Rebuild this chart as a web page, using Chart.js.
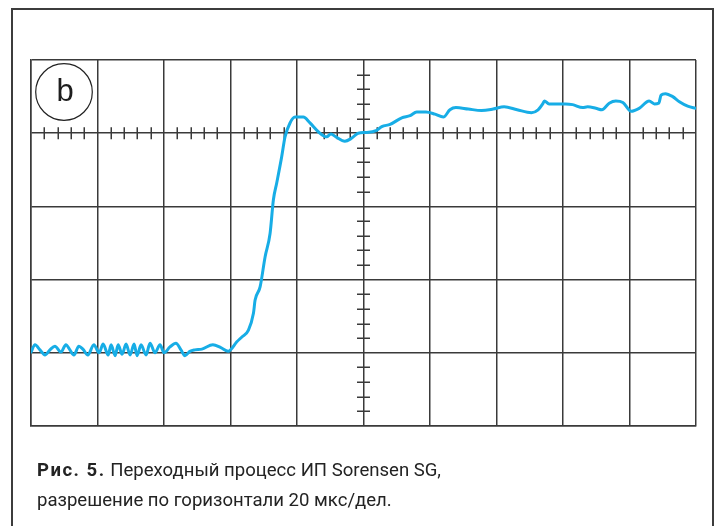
<!DOCTYPE html>
<html lang="ru">
<head>
<meta charset="utf-8">
<title>Рис. 5. Переходный процесс ИП Sorensen SG</title>
<script src="https://cdn.jsdelivr.net/npm/chart.js@4.4.1/dist/chart.umd.min.js"></script>
<style>
  html, body { margin: 0; padding: 0; background: #fff; }
  #scope { display: block; }
</style>
</head>
<body>
<canvas id="scope" width="716" height="526"></canvas>
<script>
// Horizontal: 20 µs per division, 10 divisions. Vertical: screen divisions.
const timeTicks = [0, 20, 40, 60, 80, 100, 120, 140, 160, 180, 200];
const levelTicks = [0, 1, 2, 3, 4, 5];

// Reference lines carrying the minor graticule marks
const markedTime = 100;
const markedLevel = 4;

// Output transient trace: time (µs) and level (div)
const traceTime = [
  0.0, 1.2, 2.7, 4.2, 5.7, 7.2, 9.0, 10.5, 11.7, 12.9,
  14.4, 15.6, 17.1, 18.9, 20.5, 21.7, 23.2, 24.1, 25.3, 26.2,
  27.4, 28.6, 29.8, 31.0, 31.9, 33.1, 34.6, 35.8, 37.3, 38.8,
  40.0, 41.8, 43.6, 45.1, 46.3, 47.8, 49.3, 51.4, 54.7, 57.1,
  59.3, 61.9, 63.5, 65.4, 66.9, 67.4, 68.9, 70.4, 71.9, 72.9,
  73.9, 75.4, 76.4, 77.9, 79.4, 81.9, 83.9, 86.4, 88.9, 90.2,
  91.7, 94.4, 96.4, 98.4, 101.0, 104.0, 105.5, 108.0, 111.5, 114.0,
  116.0, 118.8, 121.5, 124.0, 126.0, 127.8, 131.5, 135.5, 139.0, 142.3,
  146.2, 150.5, 152.5, 153.9, 154.4, 155.8, 160.8, 162.9, 165.9, 167.4,
  169.9, 171.7, 173.9, 175.9, 178.0, 180.5, 182.9, 185.9, 187.5, 188.8,
  189.5, 190.8, 193.0, 195.0, 197.5, 200.0
];
const traceLevel = [
  1.01, 1.11, 1.04, 0.97, 1.04, 1.09, 1.01, 1.11, 1.04, 0.97,
  1.09, 1.05, 0.97, 1.11, 1.00, 1.12, 0.97, 1.11, 0.96, 1.11,
  0.98, 1.12, 0.97, 1.12, 0.96, 1.11, 0.97, 1.13, 1.00, 1.11,
  1.00, 1.08, 1.13, 1.04, 0.96, 1.02, 1.04, 1.05, 1.11, 1.07,
  1.02, 1.15, 1.22, 1.31, 1.54, 1.72, 1.90, 2.31, 2.63, 3.09,
  3.32, 3.68, 3.95, 4.14, 4.22, 4.22, 4.14, 4.02, 3.95, 3.99,
  3.95, 3.89, 3.93, 4.00, 4.01, 4.04, 4.09, 4.12, 4.21, 4.24,
  4.29, 4.29, 4.26, 4.22, 4.32, 4.35, 4.33, 4.31, 4.33, 4.36,
  4.32, 4.28, 4.32, 4.40, 4.44, 4.40, 4.40, 4.39, 4.35, 4.36,
  4.34, 4.32, 4.41, 4.44, 4.42, 4.30, 4.34, 4.44, 4.40, 4.41,
  4.52, 4.54, 4.50, 4.43, 4.37, 4.34
];

const panelLabel = 'b';
const captionBold = 'Рис. 5.';
const captionRest = ' Переходный процесс ИП Sorensen SG,';
const captionLine2 = 'разрешение по горизонтали 20 мкс/дел.';

const tracePoints = traceTime.map((t, i) => ({ x: t, y: traceLevel[i] }));

const GRID = '#3a3a3a';
const INK = '#232323';

// Frame, minor graticule marks, panel badge and caption
const scopeDecor = {
  id: 'scopeDecor',
  beforeDraw(chart) {
    const ctx = chart.ctx;
    ctx.save();
    ctx.fillStyle = '#fff';
    ctx.fillRect(0, 0, chart.width, chart.height);
    ctx.strokeStyle = '#3c3c3c';
    ctx.lineWidth = 2;
    ctx.strokeRect(12, 9, 701, 640);
    ctx.restore();
  },
  beforeDatasetsDraw(chart) {
    const { ctx, scales: { x, y } } = chart;
    ctx.save();
    ctx.strokeStyle = GRID;
    ctx.lineWidth = 1.5;
    ctx.beginPath();
    // marks along the horizontal marked line, 5 per division
    const yLine = y.getPixelForValue(markedLevel);
    for (let i = 0; i < timeTicks.length - 1; i++) {
      const step = (timeTicks[i + 1] - timeTicks[i]) / 5;
      for (let k = 1; k < 5; k++) {
        const px = Math.round(x.getPixelForValue(timeTicks[i] + k * step)) + 0.25;
        ctx.moveTo(px, yLine - 6);
        ctx.lineTo(px, yLine + 6);
      }
    }
    // marks along the vertical marked line
    const xLine = x.getPixelForValue(markedTime);
    for (let i = 0; i < levelTicks.length - 1; i++) {
      const step = (levelTicks[i + 1] - levelTicks[i]) / 5;
      for (let k = 1; k < 5; k++) {
        const py = Math.round(y.getPixelForValue(levelTicks[i] + k * step)) + 0.25;
        ctx.moveTo(xLine - 6.5, py);
        ctx.lineTo(xLine + 6.5, py);
      }
    }
    ctx.stroke();
    ctx.restore();
  },
  afterDraw(chart) {
    const { ctx, chartArea: a } = chart;
    ctx.save();
    // panel badge
    const cx = a.left + 33, cy = a.top + 32;
    ctx.strokeStyle = '#222';
    ctx.lineWidth = 1.2;
    ctx.beginPath();
    ctx.arc(cx, cy, 28.3, 0, Math.PI * 2);
    ctx.stroke();
    ctx.fillStyle = '#1e1e1e';
    ctx.font = '31px "Liberation Sans", Arial, sans-serif';
    ctx.textAlign = 'center';
    ctx.textBaseline = 'alphabetic';
    ctx.fillText(panelLabel, cx + 1, cy + 8.5);

    // caption
    const left = a.left + 6;
    const base1 = a.bottom + 50;
    const base2 = a.bottom + 80;
    let size = 17;
    ctx.font = `400 ${size}px Roboto, "Noto Sans", sans-serif`;
    size = size * 355 / ctx.measureText(captionLine2).width;
    ctx.textAlign = 'left';
    ctx.fillStyle = INK;
    ctx.font = `700 ${size}px Roboto, "Noto Sans", sans-serif`;
    ctx.letterSpacing = '1.5px';
    ctx.fillText(captionBold, left, base1);
    const wBold = ctx.measureText(captionBold).width;
    ctx.letterSpacing = '0px';
    ctx.font = `400 ${size}px Roboto, "Noto Sans", sans-serif`;
    ctx.fillText(captionRest, left + wBold, base1);
    ctx.fillText(captionLine2, left, base2);
    ctx.restore();
  }
};

new Chart(document.getElementById('scope'), {
  type: 'line',
  data: {
    datasets: [{
      data: tracePoints,
      borderColor: '#17ade6',
      borderWidth: 3,
      pointRadius: 0,
      fill: false,
      cubicInterpolationMode: 'monotone',
      borderCapStyle: 'round',
      borderJoinStyle: 'round'
    }]
  },
  options: {
    responsive: false,
    animation: false,
    devicePixelRatio: 1,
    events: [],
    layout: { padding: { left: 31, right: 20, top: 60, bottom: 100 } },
    plugins: { legend: { display: false }, tooltip: { enabled: false } },
    scales: {
      x: {
        type: 'linear',
        min: timeTicks[0],
        max: timeTicks[timeTicks.length - 1],
        afterBuildTicks: s => { s.ticks = timeTicks.map(v => ({ value: v })); },
        ticks: { display: false },
        grid: { color: GRID, lineWidth: 1.5, drawTicks: false },
        border: { color: GRID, width: 1.5 }
      },
      y: {
        type: 'linear',
        min: levelTicks[0],
        max: levelTicks[levelTicks.length - 1],
        afterBuildTicks: s => { s.ticks = levelTicks.map(v => ({ value: v })); },
        ticks: { display: false },
        grid: { color: GRID, lineWidth: 1.5, drawTicks: false },
        border: { color: GRID, width: 1.5 }
      }
    }
  },
  plugins: [scopeDecor]
});
</script>
</body>
</html>
